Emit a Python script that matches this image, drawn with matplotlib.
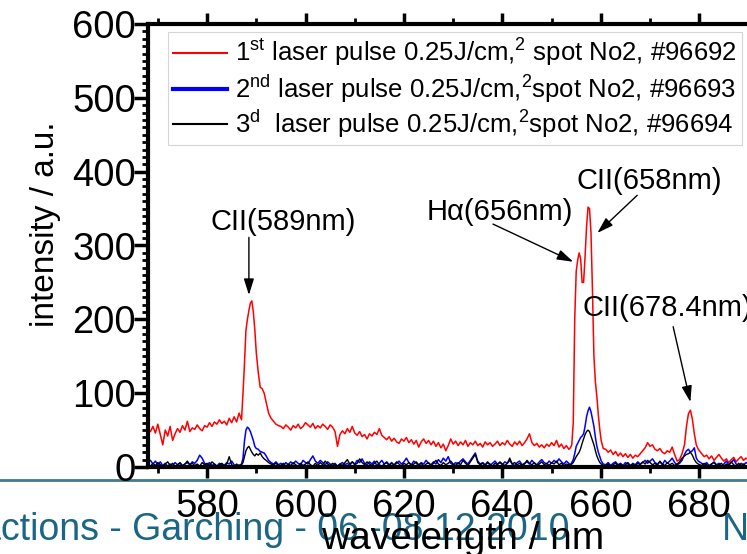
import matplotlib
matplotlib.use('Agg')
from matplotlib import pyplot as plt
from matplotlib.ticker import MultipleLocator
from matplotlib.lines import Line2D

plt.rcParams['font.family'] = ['Liberation Sans', 'DejaVu Sans']
plt.rcParams['mathtext.fontset'] = 'custom'
plt.rcParams['mathtext.rm'] = 'Liberation Sans'
plt.rcParams['mathtext.it'] = 'Liberation Sans:italic'

# wavelength samples (nm)
wl_a = [568.0, 568.5, 569.0, 569.5, 570.0, 570.5, 571.0, 571.5, 572.0, 572.5,
        573.0, 573.5, 574.0, 574.5, 575.0, 575.5, 576.0, 576.5, 577.0, 577.5,
        578.0, 578.5, 579.0, 579.5, 580.0, 580.5, 581.0, 581.5, 582.0, 582.5,
        583.0, 583.5, 584.0, 584.5, 585.0, 585.5, 586.0, 586.5]
wl_p1 = [587.0, 587.3, 587.6, 587.9, 588.2, 588.5, 588.8, 589.1, 589.4, 589.7,
         590.0, 590.4, 590.8, 591.2, 591.6, 592.0, 592.5, 593.0, 593.5, 594.0, 594.5]
wl_b = [595.0, 595.5, 596.0, 596.5, 597.0, 597.5, 598.0, 598.5, 599.0, 599.5,
        600.0, 600.5, 601.0, 601.5, 602.0, 602.5, 603.0, 603.5, 604.0, 604.5,
        605.0, 605.5, 606.0, 606.5, 607.0, 607.5, 608.0, 608.5, 609.0, 609.5,
        610.0, 610.5, 611.0, 611.5, 612.0, 612.5, 613.0, 613.5, 614.0, 614.5,
        615.0, 615.5, 616.0, 616.5, 617.0, 617.5, 618.0, 618.5, 619.0, 619.5,
        620.0, 620.5, 621.0, 621.5, 622.0, 622.5, 623.0, 623.5, 624.0, 624.5,
        625.0, 625.5, 626.0, 626.5, 627.0, 627.5, 628.0, 628.5, 629.0, 629.5,
        630.0, 630.5, 631.0, 631.5, 632.0, 632.5, 633.0, 633.5, 634.0, 634.5,
        635.0, 635.5, 636.0, 636.5, 637.0, 637.5, 638.0, 638.5, 639.0, 639.5,
        640.0, 640.5, 641.0, 641.5, 642.0, 642.5, 643.0, 643.5, 644.0, 644.5,
        645.0, 645.5, 646.0, 646.5, 647.0, 647.5, 648.0, 648.5, 649.0, 649.5,
        650.0, 650.5, 651.0, 651.5, 652.0, 652.5, 653.0, 653.5]
wl_p2 = [653.8, 654.1, 654.4, 654.7, 655.0, 655.3, 655.6, 655.9, 656.2, 656.5,
         656.8, 657.1, 657.4, 657.7, 658.0, 658.3, 658.6, 658.9, 659.2, 659.5,
         659.8, 660.1, 660.5]
wl_c = [661.0, 661.5, 662.0, 662.5, 663.0, 663.5, 664.0, 664.5, 665.0, 665.5,
        666.0, 666.5, 667.0, 667.5, 668.0, 668.5, 669.0, 669.5, 670.0, 670.5,
        671.0, 671.5, 672.0, 672.5, 673.0, 673.5, 674.0, 674.5, 675.0, 675.5,
        676.0, 676.5]
wl_p3 = [677.0, 677.4, 677.8, 678.2, 678.6, 679.0, 679.4, 679.8]
wl_d = [680.5, 681.0, 681.5, 682.0, 682.5, 683.0, 683.5, 684.0, 684.5, 685.0,
        685.5, 686.0, 686.5, 687.0, 687.5, 688.0, 688.5, 689.0, 689.5, 690.0]

# 1st pulse, #96692
red_a = [52, 48, 55, 46, 58, 44, 30, 50, 42, 55, 36, 45, 52, 47, 56, 50, 62, 48, 53, 51,
         57, 52, 49, 56, 54, 60, 55, 61, 58, 64, 59, 62, 57, 66, 60, 68, 61, 73]
red_p1 = [64, 100, 140, 185, 200, 212, 222, 225, 210, 186, 155, 128, 108, 106, 100,
          88, 73, 66, 62, 58, 56]
red_b = [55, 52, 57, 54, 50, 56, 53, 58, 52, 55,
         60, 57, 54, 59, 52, 56, 53, 58, 55, 51,
         57, 54, 48, 28, 44, 49, 45, 52, 47, 55,
         46, 43, 48, 41, 44, 38, 45, 42, 47, 44,
         52, 43, 40, 37, 41, 35, 39, 34, 32, 38,
         35, 40, 33, 37, 31, 36, 27, 34, 38, 32,
         36, 30, 35, 28, 33, 26, 31, 22, 29, 38,
         31, 35, 29, 34, 30, 36, 28, 33, 30, 35,
         29, 32, 27, 34, 30, 33, 28, 31, 35, 29,
         33, 30, 36, 31, 28, 34, 30, 35, 29, 33,
         38, 45, 33, 29, 32, 27, 30, 26, 31, 28,
         33, 29, 36, 27, 31, 25, 29, 24]
red_p2 = [26, 30, 60, 200, 265, 280, 290, 282, 250, 250, 285, 325, 352, 350, 318,
          240, 150, 115, 95, 70, 50, 35, 25]
red_c = [24, 20, 23, 17, 21, 15, 19, 14, 18, 13, 17, 12, 16, 14, 18, 22, 26, 33, 28, 30,
         24, 22, 25, 20, 18, 22, 20, 27, 17, 8, 10, 18]
red_p3 = [30, 55, 72, 77, 65, 45, 30, 24]
red_d = [18, 14, 16, 11, 15, 9, 13, 17, 12, 8, 11, 6, 10, 13, 7, 11, 14, 9, 12, 10]

# 2nd pulse, #96693
blue_a = [6, 9, 4, 8, 3, 7, 2, 5, 1, 4, 2, 6, 3, 5, 1, 4, 6, 3, 7, 5,
          9, 16, 12, 5, 3, 6, 2, 4, 1, 5, 3, 2, 6, 4, 8, 3, 0, 2]
blue_p1 = [4, 12, 35, 50, 54, 52, 48, 42, 36, 28, 25, 24, 21, 20, 19, 15, 9, 6, 4, 7, 3]
blue_b = [5, 2, 6, 3, 7, 4, 8, 5, 3, 9,
          6, 4, 10, 15, 8, 5, 9, 6, 3, 7,
          4, 2, 5, 1, 4, 6, 3, 5, 2, 7,
          4, 9, 6, 11, 5, 3, 7, 4, 8, 2,
          5, 9, 4, 7, 3, 6, 2, 5, 8, 4,
          7, 12, 6, 3, 8, 5, 2, 6, 4, 9,
          5, 3, 7, 4, 10, 6, 12, 8, 14, 5,
          3, 6, 4, 8, 11, 7, 4, 9, 14, 19,
          8, 4, 6, 3, 7, 2, 5, 8, 4, 6,
          3, 7, 5, 9, 4, 2, 6, 8, 3, 5,
          7, 4, 9, 5, 3, 7, 10, 6, 4, 8,
          5, 9, 6, 11, 7, 4, 8, 5]
blue_p2 = [3, 6, 10, 18, 28, 32, 36, 40, 42, 45, 55, 68, 76, 81, 75, 65, 55, 40, 28, 20,
           14, 8, 4]
blue_c = [3, 6, 2, 5, 7, 3, 5, 2, 6, 4, 1, 5, 3, 7, 4, 6, 9, 5, 8, 11,
          6, 4, 7, 3, 9, 5, 8, 12, 6, 3, 5, 9]
blue_p3 = [17, 22, 24, 20, 22, 26, 12, 8]
blue_d = [5, 3, 6, 2, 4, 7, 3, 5, 1, 4, 8, 3, 6, 10, 4, 2, 5, 3, 6, 4]

# 3rd pulse, #96694
black_a = [3, 1, 5, 2, 6, 3, 1, 4, 7, 2, 5, 1, 3, 6, 2, 4, 8, 3, 5, 2,
           4, 1, 6, 3, 5, 2, 7, 4, 1, 3, 5, 2, 4, 14, 3, 1, 4, 2]
black_p1 = [3, 6, 14, 22, 26, 28, 24, 20, 17, 15, 18, 16, 19, 14, 11, 9, 6, 4, 3, 5, 2]
black_b = [2, 5, 1, 4, 2, 6, 3, 1, 5, 2,
           4, 7, 3, 1, 5, 2, 6, 3, 8, 4,
           2, 5, 3, 1, 4, 2, 6, 10, 4, 7,
           3, 5, 11, 6, 3, 7, 4, 2, 5, 8,
           3, 1, 4, 6, 2, 5, 3, 7, 4, 1,
           5, 3, 6, 2, 4, 7, 3, 5, 1, 4,
           6, 2, 5, 9, 4, 2, 6, 3, 5, 8,
           4, 2, 6, 3, 9, 5, 2, 7, 12, 17,
           6, 3, 5, 2, 6, 4, 1, 5, 3, 7,
           4, 2, 5, 12, 4, 6, 3, 5, 2, 4,
           9, 5, 3, 6, 2, 4, 7, 3, 5, 2,
           6, 4, 8, 3, 5, 2, 4, 3]
black_p2 = [2, 4, 6, 10, 14, 17, 20, 25, 32, 38, 44, 48, 50, 48, 42, 36, 30, 22, 15, 10,
            6, 4, 2]
black_c = [2, 4, 1, 3, 5, 2, 4, 1, 3, 6, 2, 4, 1, 5, 3, 7, 4, 9, 6, 3,
           5, 2, 8, 4, 2, 6, 3, 5, 2, 4, 7, 12]
black_p3 = [15, 17, 18, 20, 16, 10, 6, 4]
black_d = [2, 5, 3, 1, 4, 6, 2, 3, 5, 1, 4, 2, 7, 3, 1, 5, 2, 4, 1, 3]

wavelength = wl_a + wl_p1 + wl_b + wl_p2 + wl_c + wl_p3 + wl_d
pulse1 = red_a + red_p1 + red_b + red_p2 + red_c + red_p3 + red_d
pulse2 = blue_a + blue_p1 + blue_b + blue_p2 + blue_c + blue_p3 + blue_d
pulse3 = black_a + black_p1 + black_b + black_p2 + black_c + black_p3 + black_d

labels = [r'1$^{\mathrm{st}}$ laser pulse 0.25J/cm,$^{2}$ spot No2, #96692',
          r'2$^{\mathrm{nd}}$ laser pulse 0.25J/cm,$^{2}$spot No2, #96693',
          r'3$^{\mathrm{d}}$  laser pulse 0.25J/cm,$^{2}$spot No2, #96694']

xticks = [580, 600, 620, 640, 660, 680]

fig = plt.figure(figsize=(7.47, 5.54), dpi=100)
ax = fig.add_axes([148 / 747, 1 - 467 / 554, 630 / 747, 443 / 554])

ax.plot(wavelength, pulse1, color='#ff0000', lw=1.1, label=labels[0])
ax.plot(wavelength, pulse2, color='#0000ff', lw=1.1, label=labels[1])
ax.plot(wavelength, pulse3, color='black', lw=1.0, label=labels[2])

ax.set_xlim(568, 696)
ax.set_ylim(0, 600)
ax.set_xticks(xticks)
ax.xaxis.set_minor_locator(MultipleLocator(10))
ax.yaxis.set_major_locator(MultipleLocator(100))
ax.yaxis.set_minor_locator(MultipleLocator(10))

ax.tick_params(axis='x', which='major', direction='out', length=8, width=2.5,
               top=True, labelsize=27.5, pad=8)
ax.tick_params(axis='x', which='minor', direction='out', length=4, width=2, top=True)
ax.tick_params(axis='y', which='major', direction='out', length=10, width=2.5,
               labelsize=27.5, pad=-1.5, right=False)
ax.tick_params(axis='y', which='minor', direction='out', length=4, width=2, right=False)
for s in ['left', 'bottom', 'top']:
    ax.spines[s].set_linewidth(3)
ax.spines['right'].set_visible(False)

ax.set_xlabel('wavelength / nm', fontsize=28, va='center')
ax.xaxis.set_label_coords(0.5, -0.162)
ax.set_ylabel('intensity / a.u.', fontsize=24, va='center')
ax.yaxis.set_label_coords(-0.163, 0.548)

leg = ax.legend(loc='upper left', bbox_to_anchor=(168 / 747, 1 - 32 / 554),
                bbox_transform=fig.transFigure, fontsize=18.5, frameon=True,
                fancybox=False, edgecolor='#cccccc', borderaxespad=0,
                borderpad=0.2, labelspacing=0.12, handlelength=2.1,
                handletextpad=0.3)
leg.get_frame().set_linewidth(0.8)
leg.get_lines()[0].set_linewidth(1.5)
leg.get_lines()[1].set_linewidth(3)
leg.get_lines()[2].set_linewidth(1.5)

arrow = dict(arrowstyle='-|>,head_length=0.7,head_width=0.22', color='black',
             lw=1.0, shrinkA=0, shrinkB=0, mutation_scale=14)
ann_fs = 21
ax.text(595.4, 332, 'CII(589nm)', fontsize=ann_fs, ha='center', va='center')
ax.annotate('', xy=(588.5, 233), xytext=(588.5, 311), arrowprops=arrow)
ax.text(639.5, 345, 'H\u03b1(656nm)', fontsize=ann_fs, ha='center', va='center')
ax.annotate('', xy=(654.4, 278), xytext=(638.1, 329), arrowprops=arrow)
ax.text(669.8, 387, 'CII(658nm)', fontsize=ann_fs, ha='center', va='center')
ax.annotate('', xy=(659.3, 317), xytext=(667.4, 368), arrowprops=arrow)
ax.text(656.2, 215, 'CII(678.4nm)', fontsize=ann_fs, ha='left', va='center')
ax.annotate('', xy=(678.2, 88), xytext=(674.7, 190), arrowprops=arrow)

# slide footer behind the chart
fig.add_artist(Line2D([0, 1], [1 - 480 / 554, 1 - 480 / 554], color='#3f7a8e',
                      lw=2, transform=fig.transFigure, zorder=-2))
fig.text(-20 / 747, 1 - 540 / 554, 'actions - Garching - 06.-08.12.2010',
         fontsize=27, color='#1b6586', ha='left', va='baseline', zorder=-1)
fig.text(722 / 747, 1 - 540 / 554, 'No', fontsize=27, color='#1b6586',
         ha='left', va='baseline', zorder=-1)

fig.savefig('out.png', dpi=100)
